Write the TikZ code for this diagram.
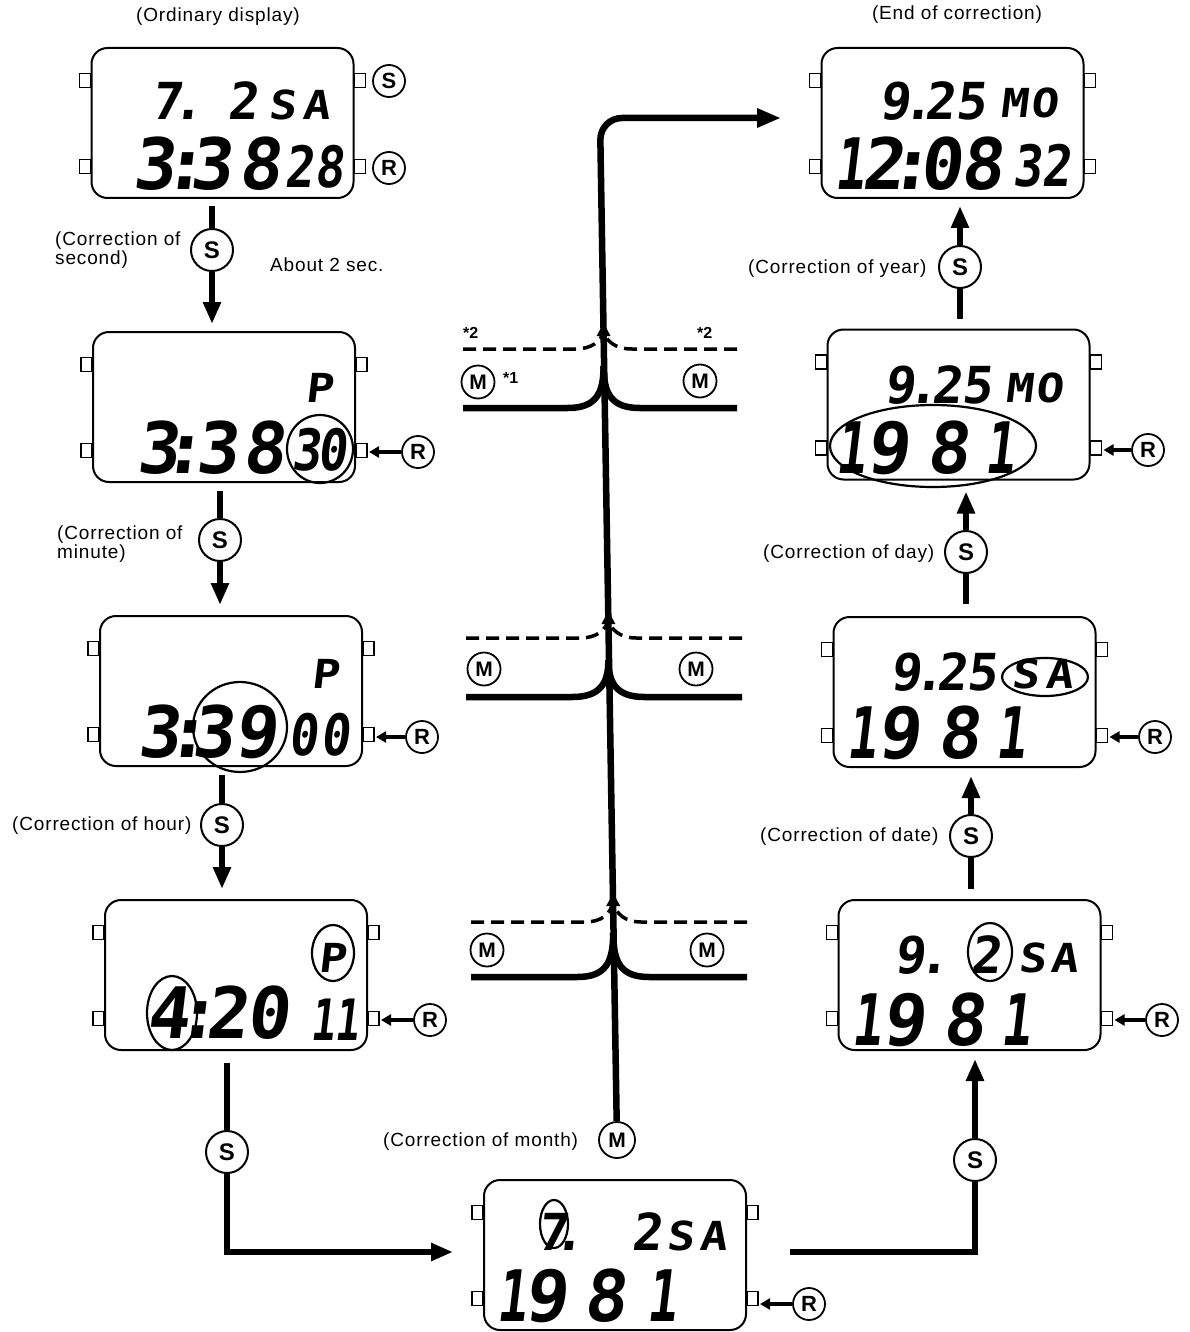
\documentclass[tikz,border=0pt]{standalone}
\usepackage{fontspec}
\usetikzlibrary{arrows.meta,calc}
\setmainfont{Liberation Sans}
\newfontfamily\lblf[LetterSpace=4.5]{Liberation Sans}
\newfontfamily\lblb{Liberation Sans Bold}
\newfontfamily\lcdfont[FakeSlant=0.12]{DejaVu Sans Mono Bold}
\newfontfamily\lcdfontn[FakeSlant=0.12,FakeStretch=0.85]{DejaVu Sans Mono Bold}
\newfontfamily\lcdfonto[FakeSlant=0.12,FakeStretch=0.7]{DejaVu Sans Mono Bold}
\newfontfamily\lcdfontw[FakeSlant=0.12,FakeStretch=1.15]{DejaVu Sans Mono Bold}
\newcommand\lcdL{\lcdfont\fontsize{71}{71}\selectfont}
\newcommand\lcdM{\lcdfontn\fontsize{57}{57}\selectfont}
\newcommand\lcdS{\lcdfont\fontsize{51}{51}\selectfont}
\newcommand\lcdT{\lcdfontw\fontsize{40}{40}\selectfont}
\newcommand\lcdone{{\lcdfonto 1}}
\newcommand\lcdrow[3]{\foreach \px/\ch in {#3}{\node[lcd,font=#1] at (\px,#2) {\ch};}}
\newcommand\watchat[3]{%
  \node[watch] (#1) at (#2,#3) {};
  \foreach \dy in {33.5,119.5}{%
    \draw[btn] ($(#1.north west)+(-11,\dy-7)$) rectangle ++(11,14);
    \draw[btn] ($(#1.north east)+(0,\dy-7)$) rectangle ++(11,14);}%
}
% #1 xc, #2 ysolid, #3 ymeet, #4 ydash, #5 ypeak, #6 xleft, #7 xright
\newcommand\juncdraw[7]{%
  \draw[mainln] (#6,#2) -- (#1-36,#2) .. controls (#1-8,#2) and (#1,#2-14) .. (#1,#3);
  \draw[mainln] (#7,#2) -- (#1+36,#2) .. controls (#1+8,#2) and (#1,#2-14) .. (#1,#3);
  \draw[dashln] (#6,#4) -- (#1-28,#4) .. controls (#1-12,#4) and (#1-2,#4-8) .. (#1,#5+4);
  \draw[dashln] (#7,#4) -- (#1+28,#4) .. controls (#1+12,#4) and (#1+2,#4-8) .. (#1,#5+4);
  \fill ($(#1,#5)+(0,-4)$) -- ++(-7,13) -- ++(14,0) -- cycle;
}
\tikzset{
  watch/.style={draw, line width=2pt, rounded corners=16pt, minimum width=262pt, minimum height=150pt, inner sep=0pt},
  btn/.style={draw, line width=1.6pt},
  lcd/.style={inner sep=0pt, anchor=base, xshift=-3pt},
  flow/.style={line width=6pt},
  flowarr/.style={line width=6pt, -{Triangle[length=22pt,width=17pt]}},
  mainln/.style={line width=6.5pt},
  dashln/.style={line width=3.5pt, dash pattern=on 13pt off 7pt},
  scirc/.style={circle, draw, line width=2pt, minimum size=42pt, inner sep=0pt, font=\lblb\fontsize{24}{24}\selectfont},
  rcirc/.style={circle, draw, line width=1.8pt, minimum size=32pt, inner sep=0pt, font=\lblb\fontsize{22}{22}\selectfont},
  mcirc/.style={circle, draw, line width=1.8pt, minimum size=33pt, inner sep=0pt, font=\lblb\fontsize{21}{21}\selectfont},
  lbl/.style={font=\lblf\fontsize{19}{21}\selectfont, inner sep=0pt, anchor=base west},
  star/.style={font=\lblb\fontsize{16}{16}\selectfont, inner sep=0pt, anchor=base west},
  hl/.style={draw, line width=2.2pt},
  rarr/.style={line width=3.5pt, -{Triangle[length=10pt,width=11pt]}, shorten >=13pt},
}
\begin{document}
\begin{tikzpicture}[x=1pt, y=-1pt]
\useasboundingbox (0,0) rectangle (1190,1332);

% ---------- watches ----------
\watchat{w1}{222.5}{123}
\watchat{w2}{224}{407}
\watchat{w3}{231}{691}
\watchat{w4}{236}{975}
\watchat{w5}{615}{1255}
\watchat{w6}{952.5}{123}
\watchat{w7}{958.5}{404.5}
\watchat{w8}{964.5}{692}
\watchat{w9}{969.5}{975}

% ---------- LCD texts ----------
% w1
\lcdrow{\lcdS}{120}{170/7,191/.,246/2}
\lcdrow{\lcdT}{120}{285/S,319/A}
\lcdrow{\lcdL}{190}{157/3,187/:,214/3,263/8}
\lcdrow{\lcdM}{188}{302/2,332/8}
% w2
\lcdrow{\lcdT}{402}{322/P}
\lcdrow{\lcdL}{473}{161/3,186/:,220/3,267/8}
\lcdrow{\lcdM}{470}{309/3,335/0}
\draw[hl] (320,449) ellipse [x radius=33pt, y radius=34pt];
% w3
\lcdrow{\lcdT}{688}{328/P}
\lcdrow{\lcdL}{757}{162/3,190/:,216/3,259/9}
\lcdrow{\lcdM}{755}{306/0,338/0}
\draw[hl] (240,727) ellipse [x radius=47pt, y radius=45pt];
% w4
\lcdrow{\lcdT}{972}{335/P}
\lcdrow{\lcdL}{1038}{171/4,200/:,230/2,271/0}
\lcdrow{\lcdM}{1040}{326/\lcdone,350/\lcdone}
\draw[hl] (333,953) ellipse [x radius=21pt, y radius=28pt];
\draw[hl] (172,1013) ellipse [x radius=25pt, y radius=37pt];
% w5
\lcdrow{\lcdS}{1250}{556/7,572/.,650/2}
\lcdrow{\lcdT}{1250}{683/S,716/A}
\lcdrow{\lcdL}{1321}{514/\lcdone,549/9,608/8,664/\lcdone}
\draw[hl] (554,1224) ellipse [x radius=14pt, y radius=24pt];
% w6
\lcdrow{\lcdS}{120}{898/9,921/.,943/2,974/5}
\lcdrow{\lcdT}{118}{1017/M,1047/O}
\lcdrow{\lcdL}{190}{852/\lcdone,886/2,913/:,944/0,985/8}
\lcdrow{\lcdM}{187}{1030/3,1059/2}
% w7
\lcdrow{\lcdS}{403}{903/9,926/.,950/2,980/5}
\lcdrow{\lcdT}{402}{1022/M,1052/O}
\lcdrow{\lcdL}{473}{853/\lcdone,891/9,951/8,1002/\lcdone}
\draw[hl] (933,446) ellipse [x radius=103pt, y radius=41pt];
% w8
\lcdrow{\lcdS}{690}{909/9,932/.,955/2,985/5}
\lcdrow{\lcdT}{688}{1028/S,1062/A}
\lcdrow{\lcdL}{758}{864/\lcdone,902/9,962/8,1013/\lcdone}
\draw[hl] (1045,677) ellipse [x radius=43pt, y radius=19pt];
% w9
\lcdrow{\lcdS}{973}{913/9,937/.,989/2}
\lcdrow{\lcdT}{972}{1035/S,1067/A}
\lcdrow{\lcdL}{1045}{869/\lcdone,907/9,967/8,1018/\lcdone}
\draw[hl] (990,952) ellipse [x radius=22pt, y radius=29pt];

% ---------- side buttons labels ----------
\node[rcirc] (bs1) at (389,81) {S};
\node[rcirc] (br1) at (389,168) {R};
\node[rcirc] (r2) at (418,452) {R};
\node[rcirc] (r3) at (422,737) {R};
\node[rcirc] (r4) at (430,1020) {R};
\node[rcirc] (r5) at (809,1304) {R};
\node[rcirc] (r7) at (1148,450) {R};
\node[rcirc] (r8) at (1155,737) {R};
\node[rcirc] (r9) at (1162,1020) {R};
\draw[rarr] (r2) -- (r2 -| w2.east);
\draw[rarr] (r3) -- (r3 -| w3.east);
\draw[rarr] (r4) -- (r4 -| w4.east);
\draw[rarr] (r5) -- (r5 -| w5.east);
\draw[rarr] (r7) -- (r7 -| w7.east);
\draw[rarr] (r8) -- (r8 -| w8.east);
\draw[rarr] (r9) -- (r9 -| w9.east);

% ---------- S flow ----------
\node[scirc] (s1) at (212,250) {S};
\node[scirc] (s2) at (220,540) {S};
\node[scirc] (s3) at (222,825) {S};
\node[scirc] (s4) at (227,1152) {S};
\node[scirc] (s5) at (975,1160) {S};
\node[scirc] (s6) at (971,836) {S};
\node[scirc] (s7) at (966,552) {S};
\node[scirc] (s8) at (960,267) {S};

\draw[flow] ($(w1.south -| s1)+(0,7)$) -- (s1);
\draw[flowarr] (s1) -- ($(w2.north -| s1)+(0,-7)$);
\draw[flow] ($(w2.south -| s2)+(0,8)$) -- (s2);
\draw[flowarr] (s2) -- ($(w3.north -| s2)+(0,-10)$);
\draw[flow] ($(w3.south -| s3)+(0,8)$) -- (s3);
\draw[flowarr] (s3) -- ($(w4.north -| s3)+(0,-10)$);
\draw[flow] ($(w4.south -| s4)+(0,12)$) -- (s4);
\coordinate (in5) at (453,1252);
\draw[flowarr] (s4) |- (in5);
\coordinate (out5) at (790,1252);
\draw[flow] (out5) -| (s5);
\draw[flowarr] (s5) -- ($(w9.south -| s5)+(0,8)$);
\draw[flow] ($(w9.north -| s6)+(0,-10)$) -- (s6);
\draw[flowarr] (s6) -- ($(w8.south -| s6)+(0,8)$);
\draw[flow] ($(w8.north -| s7)+(0,-12)$) -- (s7);
\draw[flowarr] (s7) -- ($(w7.south -| s7)+(0,11)$);
\draw[flow] ($(w7.north -| s8)+(0,-10)$) -- (s8);
\draw[flowarr] (s8) -- ($(w6.south -| s8)+(0,7)$);

% ---------- M central line ----------
\node[mcirc, minimum size=36pt] (mc) at (617,1140) {M};
\coordinate (corner) at (600,118);
\coordinate (topend) at (781,118);
\draw[line width=6.5pt, -{Triangle[length=24pt,width=18pt]}, rounded corners=22pt] (mc) -- (corner) -- (topend);

\juncdraw{603.6}{408}{366}{349}{327}{463}{737}
\juncdraw{608.4}{697}{660}{638}{615}{466}{742}
\juncdraw{613.2}{977}{933}{922}{897}{471}{747}

\node[mcirc] (m1l) at (478,382) {M};
\node[mcirc] (m1r) at (700,381) {M};
\node[mcirc] (m2l) at (484,669) {M};
\node[mcirc] (m2r) at (696,669) {M};
\node[mcirc] (m3l) at (487,950) {M};
\node[mcirc] (m3r) at (707,950) {M};
\node[star] (st2l) at (463,338) {*2};
\node[star] (st2r) at (697,338) {*2};
\node[star] (st1) at (503,383) {*1};

% ---------- labels ----------
\node[lbl, anchor=base] (t1) at (218,22) {(Ordinary display)};
\node[lbl, anchor=base] (t2) at (957,20) {(End of correction)};
\node[lbl] (c1a) at (55,246) {(Correction of};
\node[lbl] (c1b) at (55,264) {second)};
\node[lbl] (ab) at (270,271) {About 2 sec.};
\node[lbl] (c2a) at (57,539) {(Correction of};
\node[lbl] (c2b) at (57,558) {minute)};
\node[lbl] (c3) at (12,830) {(Correction of hour)};
\node[lbl] (c4) at (383,1146) {(Correction of month)};
\node[lbl] (c5) at (760,841) {(Correction of date)};
\node[lbl] (c6) at (763,558) {(Correction of day)};
\node[lbl] (c7) at (748,273) {(Correction of year)};
\end{tikzpicture}
\end{document}
